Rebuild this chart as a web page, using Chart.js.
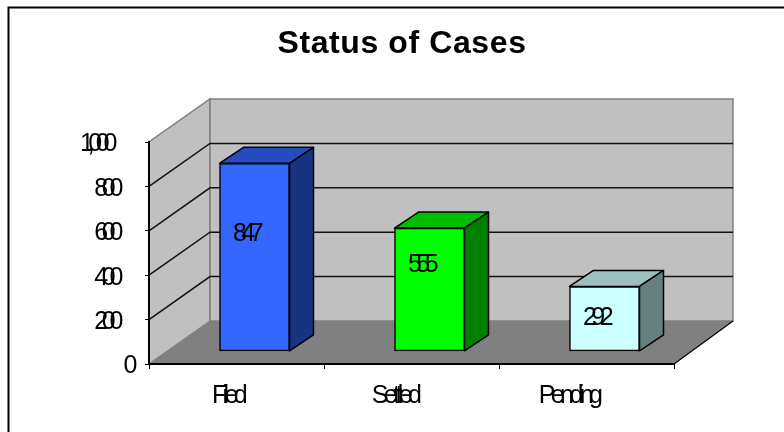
<!DOCTYPE html>
<html><head><meta charset="utf-8">
<style>html,body{margin:0;padding:0;background:#fff}#w{width:784px;height:432px}</style>
<script src="https://cdn.jsdelivr.net/npm/chart.js@4"></script></head>
<body><div id="w"><canvas id="c" width="784" height="432"></canvas></div>
<script>
const categories = ['Filed', 'Settled', 'Pending'];
const caseCounts = [847, 555, 292];
const tickStep = 200;
const axisMax = 1000;
const frontColors = ['#3366FF', '#00FF00', '#CCFFFF'];
const topColors = ['#264DBF', '#00BF00', '#99BFBF'];
const sideColors = ['#1A3380', '#008000', '#668080'];

// layout of the pseudo-3D view (pixels)
const wallDepth = {x: 61, y: -43};
const barDepth = {x: 24, y: -16};
const barShift = {x: 18, y: -12.7};
const labelLift = [23, 24, 0.5];
const labelNudge = [-9, -9, -9];
const xLabelNudge = [-9, -17, -18];
const yLabelNudge = [-8, -22, -22, -22, -22, -28];
const yLabelDrop = 2.5;
const spacing = {title: '0.6px', x: '-4.6px', y: '-6.3px', data: '-5.5px'};

const poly = (ctx, pts, fill, stroke, lw) => {
  ctx.beginPath();
  pts.forEach((p, i) => i ? ctx.lineTo(p[0], p[1]) : ctx.moveTo(p[0], p[1]));
  ctx.closePath();
  if (fill) { ctx.fillStyle = fill; ctx.fill(); }
  if (stroke) { ctx.strokeStyle = stroke; ctx.lineWidth = lw || 1; ctx.stroke(); }
};

const scene = {
  id: 'scene',
  afterLayout(chart) {
    // title is centred a little right of the canvas middle
    chart.titleBlock.left = 20;
    chart.titleBlock.right = 784;
    ['x', 'y'].forEach(k => {
      const s = chart.scales[k], draw = s.drawLabels;
      s.drawLabels = function (area) {
        const ctx = this.ctx;
        ctx.save();
        ctx.letterSpacing = spacing[k];
        draw.call(this, area);
        ctx.restore();
      };
    });
  },
  beforeDraw(chart) {
    const ctx = chart.ctx, {x: xs, y: ys} = chart.scales;
    const L = xs.left, R = xs.right, B = ys.bottom, T = ys.top;
    const dx = wallDepth.x, dy = wallDepth.y, backR = R + dx - 2;
    ctx.save();
    ctx.strokeStyle = '#000'; ctx.lineWidth = 2;
    ctx.beginPath(); ctx.moveTo(8.5, 432); ctx.lineTo(8.5, 7.5); ctx.lineTo(784, 7.5); ctx.stroke();
    // side wall, back wall, floor
    poly(ctx, [[L, B], [L, T], [L + dx, T + dy], [L + dx, B + dy]], '#C0C0C0', '#808080', 1.5);
    poly(ctx, [[L + dx, B + dy], [L + dx, T + dy], [backR, T + dy], [backR, B + dy]], '#C0C0C0', '#808080', 1.5);
    poly(ctx, [[L, B], [L + dx, B + dy], [backR, B + dy], [R, B]], '#808080');
    // gridlines across walls
    ctx.strokeStyle = '#111'; ctx.lineWidth = 1.5;
    ys.ticks.forEach(t => {
      if (t.value === 0 || t.value === axisMax) return;
      const y = ys.getPixelForValue(t.value);
      ctx.beginPath(); ctx.moveTo(L, y); ctx.lineTo(L + dx, y + dy); ctx.lineTo(backR, y + dy); ctx.stroke();
    });
    ctx.strokeStyle = '#000'; ctx.lineWidth = 1.2;
    ctx.beginPath(); ctx.moveTo(R, B); ctx.lineTo(backR, B + dy); ctx.stroke();
    ctx.restore();
    // per-label placement of the axis text
    xs.getLabelItems().forEach((it, i) => {
      if (!it.nudged) { it.options.translation[0] += xLabelNudge[i]; it.nudged = true; }
    });
    ys.getLabelItems().forEach((it, i) => {
      if (!it.nudged) {
        it.options.translation[0] += yLabelNudge[i];
        it.options.translation[1] += yLabelDrop;
        it.nudged = true;
      }
    });
    ctx.letterSpacing = spacing.title;
  },
  beforeDatasetDraw(chart) {
    const ctx = chart.ctx;
    ctx.letterSpacing = '0px';
    ctx.save();
    ctx.translate(barShift.x, barShift.y);
    chart.getDatasetMeta(0).data.forEach((b, i) => {
      const l = b.x - b.width / 2, r = b.x + b.width / 2, t = b.y, bo = b.base;
      const dx = barDepth.x, dy = barDepth.y;
      ctx.lineJoin = 'round';
      poly(ctx, [[l, t], [l + dx, t + dy], [r + dx, t + dy], [r, t]], topColors[i], '#000', 1.5);
      poly(ctx, [[r, t], [r + dx, t + dy], [r + dx, bo + dy], [r, bo]], sideColors[i], '#000', 1.5);
    });
  },
  afterDatasetDraw(chart) { chart.ctx.restore(); },
  afterDatasetsDraw(chart) {
    const ctx = chart.ctx;
    ctx.save();
    ctx.letterSpacing = spacing.data;
    ctx.font = '25px "Liberation Sans"';
    ctx.fillStyle = '#000';
    ctx.textAlign = 'center';
    ctx.textBaseline = 'middle';
    chart.getDatasetMeta(0).data.forEach((b, i) => {
      const x = b.x + barShift.x + labelNudge[i];
      const y = (b.y + b.base) / 2 + barShift.y - labelLift[i];
      ctx.fillText(String(caseCounts[i]), x, y);
    });
    ctx.restore();
  }
};

new Chart(document.getElementById('c'), {
  type: 'bar',
  data: {
    labels: categories,
    datasets: [{
      data: caseCounts,
      backgroundColor: frontColors,
      borderColor: '#000',
      borderWidth: 1.5,
      borderSkipped: false,
      barThickness: 70,
      clip: false
    }]
  },
  plugins: [scene],
  options: {
    responsive: false,
    animation: false,
    layout: {padding: {left: 0, right: 110, top: 0, bottom: 0}},
    plugins: {
      legend: {display: false},
      tooltip: {enabled: false},
      title: {
        display: true,
        text: 'Status of Cases',
        color: '#000',
        font: {family: '"Liberation Sans"', size: 32, weight: 'bold', lineHeight: 1.2},
        padding: {top: 25, bottom: 78.6}
      }
    },
    scales: {
      x: {
        grid: {display: true, drawOnChartArea: false, drawTicks: true, tickLength: 5, color: '#000', lineWidth: 1},
        border: {color: '#000', width: 2},
        ticks: {z: 1, color: '#000', padding: 12, maxRotation: 0, font: {family: '"Liberation Sans"', size: 25}},
        afterFit(s) { s.height = 68; }
      },
      y: {
        min: 0, max: axisMax,
        grid: {display: true, drawOnChartArea: false, drawTicks: true, tickLength: 4, color: '#000', lineWidth: 1},
        border: {color: '#000', width: 2},
        ticks: {z: 1, stepSize: tickStep, color: '#000', padding: 6, font: {family: '"Liberation Sans"', size: 25}},
        afterFit(s) { s.width = 149; }
      }
    }
  }
});
</script></body></html>
